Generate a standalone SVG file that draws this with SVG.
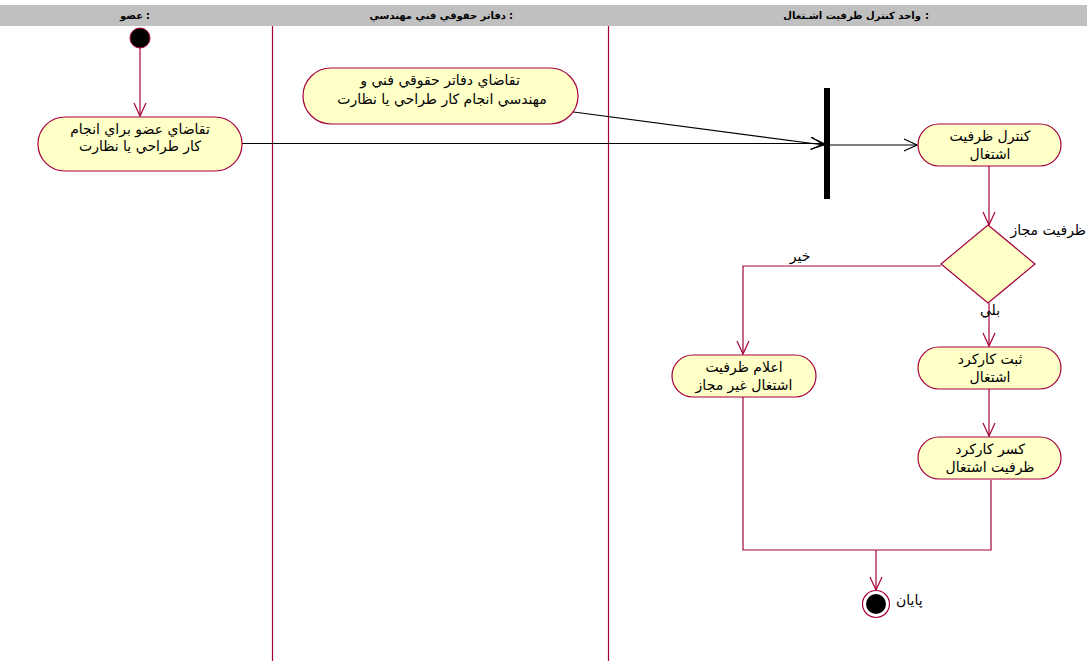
<svg xmlns="http://www.w3.org/2000/svg" width="1087" height="661" viewBox="0 0 1087 661">
<style>
.lane{stroke:#a3003c;stroke-width:1.2;fill:none}
.hdr{font-family:"DejaVu Sans",sans-serif;font-size:10px;font-weight:bold;fill:#000;text-anchor:end}
.act{fill:#ffffc8;stroke:#a3003c;stroke-width:1.2}
.t{font-family:"DejaVu Sans","Noto Sans",sans-serif;font-size:14px;fill:#000;text-anchor:middle}
.fl{stroke:#a3003c;stroke-width:1.2;fill:none}
.bk{stroke:#000;stroke-width:1.2;fill:none}
</style>
<defs>
<marker id="am" markerWidth="16" markerHeight="16" refX="14" refY="8" orient="auto" markerUnits="userSpaceOnUse">
<path d="M1,2 L14,8 L1,14" fill="none" stroke="#a3003c" stroke-width="1.2"/>
</marker>
<marker id="ab" markerWidth="16" markerHeight="16" refX="14" refY="8" orient="auto" markerUnits="userSpaceOnUse">
<path d="M1,2 L14,8 L1,14" fill="none" stroke="#000" stroke-width="1.2"/>
</marker>
</defs>
<rect width="1087" height="661" fill="#fff"/>
<g id="header">
<rect x="0" y="5" width="1087" height="21" fill="#c0c0c0"/>
<text class="hdr" x="143" y="19">عضو</text>
<text class="hdr" x="150" y="19">:</text>
<text class="hdr" x="506" y="19">دفاتر حقوقي فني مهندسي</text>
<text class="hdr" x="513" y="19">:</text>
<text class="hdr" x="921" y="19">واحد كنترل ظرفيت اشـتغال</text>
<text class="hdr" x="929" y="19">:</text>
</g>
<g id="lanes">
<line class="lane" x1="272.5" y1="26" x2="272.5" y2="661"/>
<line class="lane" x1="608.5" y1="26" x2="608.5" y2="661"/>
</g>
<g id="connectors">
<line class="fl" x1="140" y1="48" x2="140" y2="116" marker-end="url(#am)"/>
<line class="bk" x1="242" y1="143.5" x2="824" y2="143.5" marker-end="url(#ab)"/>
<line class="bk" x1="566" y1="111" x2="824" y2="145" marker-end="url(#ab)"/>
<line class="bk" x1="830" y1="145" x2="917" y2="145" marker-end="url(#ab)"/>
<line class="fl" x1="989" y1="166" x2="989" y2="225" marker-end="url(#am)"/>
<polyline class="fl" points="941,266 743,266 743,354" marker-end="url(#am)"/>
<line class="fl" x1="989" y1="303" x2="989" y2="346" marker-end="url(#am)"/>
<line class="fl" x1="989" y1="389" x2="989" y2="436" marker-end="url(#am)"/>
<polyline class="fl" points="743,397 743,550 991,550 991,480"/>
<line class="fl" x1="876" y1="550" x2="876" y2="590" marker-end="url(#am)"/>
<text class="t" x="800" y="261" font-size="12">خير</text>
<text class="t" x="990" y="315" font-size="12">بلي</text>
<text class="t" x="1086" y="235" font-size="12" style="text-anchor:end">ظرفيت مجاز</text>
</g>
<g id="start">
<circle cx="140" cy="38" r="10" fill="#000" stroke="#a3003c" stroke-width="1"/>
</g>
<g id="node1">
<rect class="act" x="38" y="117" width="204" height="54" rx="27" ry="27"/>
<text class="t" x="140" y="134">تقاضاي عضو براي انجام</text>
<text class="t" x="140" y="151">كار طراحي يا نظارت</text>
</g>
<g id="node2">
<rect class="act" x="303" y="68" width="275" height="56" rx="28" ry="28"/>
<text class="t" x="440" y="85">تقاضاي دفاتر حقوقي فني و</text>
<text class="t" x="442" y="104">مهندسي انجام كار طراحي يا نظارت</text>
</g>
<g id="fork">
<rect x="824" y="88" width="6" height="111" fill="#000"/>
</g>
<g id="node3">
<rect class="act" x="918" y="124" width="143" height="42" rx="21" ry="21"/>
<text class="t" x="990" y="141">كنترل ظرفيت</text>
<text class="t" x="990" y="159">اشتغال</text>
</g>
<g id="decision">
<polygon class="act" points="988,225 1035,264 988,303 941,264"/>
</g>
<g id="node4">
<rect class="act" x="672" y="355" width="144" height="42" rx="21" ry="21"/>
<text class="t" x="744" y="372">اعلام ظرفيت</text>
<text class="t" x="744" y="390">اشتغال غير مجاز</text>
</g>
<g id="node5">
<rect class="act" x="918" y="347" width="143" height="42" rx="21" ry="21"/>
<text class="t" x="990" y="364">ثبت  كاركرد</text>
<text class="t" x="990" y="382">اشتغال</text>
</g>
<g id="node6">
<rect class="act" x="918" y="437" width="143" height="42" rx="21" ry="21"/>
<text class="t" x="990" y="454">كسر كاركرد</text>
<text class="t" x="990" y="472">ظرفيت اشتغال</text>
</g>
<g id="end">
<circle cx="876" cy="604" r="13.5" fill="#fff" stroke="#a3003c" stroke-width="1.2"/>
<circle cx="876" cy="604" r="10" fill="#000"/>
<text class="t" x="896" y="605" font-size="12" style="text-anchor:start">پايان</text>
</g>
</svg>
